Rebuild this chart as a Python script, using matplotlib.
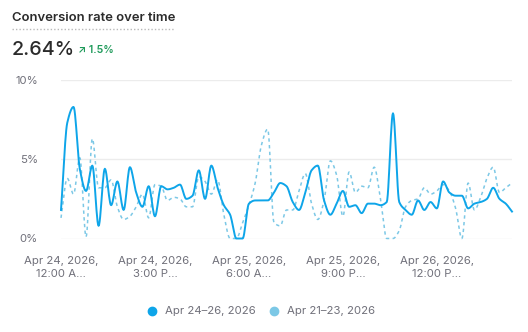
import numpy as np
import matplotlib
matplotlib.use("Agg")
import matplotlib.pyplot as plt

plt.rcParams['font.family'] = ['Inter', 'DejaVu Sans']

hours = list(range(73))
current = [1.8, 7.3, 8.3, 4.4, 3.0, 4.6, 0.8, 4.4, 2.1, 3.6,
           1.8, 4.5, 2.9, 2.0, 3.3, 1.4, 3.3, 3.1, 3.2, 3.4,
           2.5, 2.7, 4.3, 2.5, 4.6, 3.2, 2.1, 1.5, 0.0, 0.0,
           2.2, 2.4, 2.4, 2.4, 2.9, 3.5, 3.3, 2.3, 1.8, 2.9,
           4.3, 4.6, 2.4, 1.5, 2.2, 3.0, 2.0, 2.1, 1.6, 2.2,
           2.2, 2.1, 2.3, 7.9, 2.3, 1.8, 1.5, 2.4, 1.8, 2.3,
           1.9, 3.6, 2.9, 2.7, 2.7, 1.9, 2.2, 2.3, 2.5, 3.2,
           2.5, 2.2, 1.7]
previous = [1.3, 3.8, 2.8, 5.1, 0.1, 6.3, 3.2, 3.2, 3.7, 2.0,
            1.2, 1.4, 2.0, 2.8, 1.3, 3.4, 3.3, 2.4, 2.6, 2.5,
            2.0, 2.0, 3.9, 3.6, 2.8, 3.7, 1.5, 0.0, 0.0, 1.0,
            2.1, 3.5, 5.9, 6.9, 1.0, 0.8, 1.8, 1.8, 3.0, 4.1,
            2.2, 1.2, 2.4, 4.9, 4.0, 1.4, 4.2, 2.9, 3.3, 3.2,
            4.5, 2.5, 0.0, 0.0, 0.5, 2.0, 2.4, 2.5, 3.2, 2.8,
            3.0, 3.4, 3.0, 1.9, 0.0, 3.5, 1.8, 2.6, 3.8, 4.5,
            2.9, 3.2, 3.5]
tick_hours = [0, 15, 30, 45, 60]
tick_labels = ["Apr 24, 2026,\n12:00 A…", "Apr 24, 2026,\n3:00 P…",
               "Apr 25, 2026,\n6:00 A…", "Apr 25, 2026,\n9:00 P…",
               "Apr 26, 2026,\n12:00 P…"]
series_names = ["Apr 24–26, 2026", "Apr 21–23, 2026"]
title = "Conversion rate over time"
kpi = "2.64%"
delta = "↗ 1.5%"

C_MAIN = "#0ea5e9"
C_PREV = "#7cc8e6"
GRAY = "#70707a"


def monotone(x, y, n=12):
    x = np.asarray(x, float); y = np.asarray(y, float)
    h = np.diff(x); d = np.diff(y) / h
    m = np.zeros_like(y)
    m[0] = d[0]; m[-1] = d[-1]
    for i in range(1, len(y) - 1):
        if d[i - 1] * d[i] <= 0:
            m[i] = 0
        else:
            m[i] = (h[i - 1] + h[i]) * 3 / ((2 * h[i] + h[i - 1]) / d[i - 1] + (h[i] + 2 * h[i - 1]) / d[i])
    xs, ys = [], []
    for i in range(len(x) - 1):
        t = np.linspace(0, 1, n, endpoint=False)
        h00 = 2 * t**3 - 3 * t**2 + 1; h10 = t**3 - 2 * t**2 + t
        h01 = -2 * t**3 + 3 * t**2; h11 = t**3 - t**2
        xs.append(x[i] + t * h[i])
        ys.append(h00 * y[i] + h10 * h[i] * m[i] + h01 * y[i + 1] + h11 * h[i] * m[i + 1])
    xs.append([x[-1]]); ys.append([y[-1]])
    return np.concatenate(xs), np.concatenate(ys)


W, H = 528, 332
fig = plt.figure(figsize=(W / 100, H / 100), dpi=100)
ax = fig.add_axes([61 / W, 1 - 238.5 / H, (512 - 61) / W, (238.5 - 80) / H])

px, py = monotone(hours, previous)
ax.plot(px, py, color=C_PREV, lw=1.1, dashes=(2.2, 2.2), clip_on=False, zorder=2)
cx, cy = monotone(hours, current)
ax.plot(cx, cy, color=C_MAIN, lw=1.4, clip_on=False, zorder=3, solid_joinstyle='round')

ax.set_xlim(0, 72)
ax.set_ylim(0, 10)
ax.set_yticks([0, 5, 10])
ax.set_yticklabels(["0%", "5%", "10%"])
ax.set_xticks(tick_hours)
ax.set_xticklabels(tick_labels, linespacing=1.45)
for s in ax.spines.values():
    s.set_visible(False)
ax.grid(axis='y', color="#ececec", lw=1)
ax.set_axisbelow(True)
ax.tick_params(length=0, colors=GRAY, labelsize=8.2)
ax.tick_params(axis='y', pad=16.5)
ax.tick_params(axis='x', pad=12.5)
for lab in ax.get_yticklabels():
    lab.set_horizontalalignment('right')

fig.text(12 / W, 1 - 21 / H, title, fontsize=9.4, fontweight='semibold', color="#2b2b2b", va='baseline')
fig.add_artist(plt.Line2D([12 / W, 175 / W], [1 - 29 / H] * 2, color="#b9b9b9", lw=1, ls=(0, (1, 1.5))))
fig.text(12 / W, 1 - 55 / H, kpi, fontsize=14.2, fontweight='medium', color="#2b2b2b", va='baseline')
fig.text(78 / W, 1 - 53 / H, delta, fontsize=7.6, fontweight='semibold', color="#1e9a5a", va='baseline')

# legend
ly = 1 - 311 / H
fig.add_artist(plt.Line2D([152 / W], [ly], marker='o', ms=6, color=C_MAIN, mec=C_MAIN))
fig.text(165 / W, ly, series_names[0], fontsize=8.2, color=GRAY, va='center')
fig.add_artist(plt.Line2D([274 / W], [ly], marker='o', ms=6, color=C_PREV, mec=C_PREV))
fig.text(287 / W, ly, series_names[1], fontsize=8.2, color=GRAY, va='center')

fig.savefig("out.png", dpi=100)
